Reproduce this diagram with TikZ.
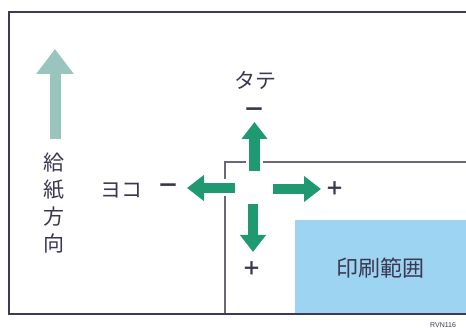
\documentclass[tikz,border=0pt]{standalone}
\usepackage{fontspec}
\newfontfamily\jpfont{Noto Sans CJK JP}
\setsansfont{Liberation Sans}
\usetikzlibrary{arrows.meta}
\definecolor{framenavy}{HTML}{3E3A56}
\definecolor{innergray}{HTML}{6A677C}
\definecolor{textnavy}{HTML}{3B3752}
\definecolor{movegreen}{HTML}{1F9970}
\definecolor{feedteal}{HTML}{9AC5BF}
\definecolor{printblue}{HTML}{9DD4F1}
\begin{document}
\begin{tikzpicture}[x=1pt,y=-1pt,line cap=butt,
    lbl/.style={text=textnavy,inner sep=0pt,font=\jpfont\fontsize{21}{27}\selectfont},
    sign/.style={text=textnavy,inner sep=0pt,font=\jpfont\bfseries\fontsize{22}{22}\selectfont},
    shiftarrow/.style={draw=movegreen,line width=10.5pt,-{Triangle[length=17pt,width=25pt]}},
    halo/.style={draw=white,line width=17pt}]
  \useasboundingbox (0,0) rectangle (466,328);
  % print area and frames
  \fill[printblue] (295,220) rectangle (480,314);
  \draw[innergray,line width=1.1pt] (225,314) -- (225,162) -- (480,162);
  \draw[framenavy,line width=2pt] (480,12) -- (9,12) -- (9,314) -- (480,314);
  % paper feed direction
  \coordinate (feedtail) at (55,139);
  \coordinate (feedtip) at (55,49);
  \draw[feedteal,line width=11pt,-{Triangle[length=25pt,width=36pt]}] (feedtail) -- (feedtip);
  \node[lbl,align=center] (feedlbl) at (54,203) {給\\紙\\方\\向};
  % shift arrows
  \coordinate (upstart) at (254.5,171);
  \coordinate (uptip) at (254.5,122);
  \coordinate (leftstart) at (235,188);
  \coordinate (lefttip) at (187,188);
  \coordinate (rightstart) at (273,189);
  \coordinate (righttip) at (321,189);
  \coordinate (downstart) at (253,204);
  \coordinate (downtip) at (253,252);
  \draw[halo] (upstart) -- (uptip);
  \draw[halo] (leftstart) -- (lefttip);
  \draw[shiftarrow] (upstart) -- (uptip);
  \draw[shiftarrow] (leftstart) -- (lefttip);
  \draw[shiftarrow] (rightstart) -- (righttip);
  \draw[shiftarrow] (downstart) -- (downtip);
  % labels
  \node[lbl] (tate) at (255,80) {タテ};
  \node[sign] (tateminus) at (254,113) {－};
  \node[lbl] (yoko) at (121,190) {ヨコ};
  \node[sign] (yokominus) at (168,189) {－};
  \node[sign,font=\jpfont\bfseries\fontsize{19}{19}\selectfont] (rightplus) at (335,189) {＋};
  \node[sign,font=\jpfont\bfseries\fontsize{19}{19}\selectfont] (downplus) at (252,269) {＋};
  \node[lbl,font=\jpfont\fontsize{22}{22}\selectfont] (area) at (380,268) {印刷範囲};
  \node[anchor=north west,inner sep=0pt,text=textnavy,font=\sffamily\fontsize{7}{7}\selectfont] (code) at (430,322.5) {RVN116};
\end{tikzpicture}
\end{document}
